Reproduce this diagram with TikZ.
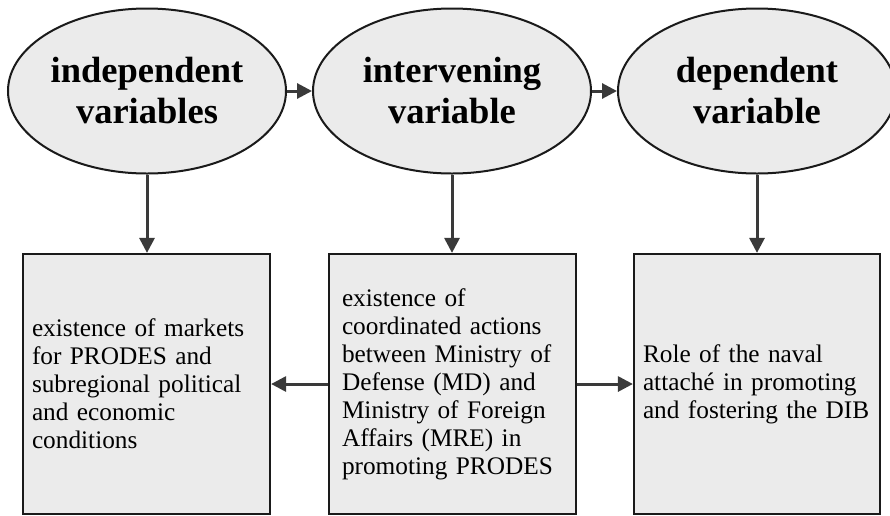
\documentclass[tikz,border=0pt]{standalone}
\usepackage{fontspec}
\setmainfont{Liberation Serif}
\usetikzlibrary{shapes.geometric,arrows.meta}
\definecolor{fillgray}{HTML}{EBEBEB}
\definecolor{edgegray}{HTML}{1A1A1A}
\definecolor{arrowgray}{HTML}{3A3A3A}
\tikzset{
  varell/.style={ellipse, draw=edgegray, line width=2pt, fill=fillgray,
    minimum width=278pt, minimum height=165pt, inner sep=0pt, align=center,
    font=\fontsize{36.5}{41}\selectfont\bfseries, text=black},
  infobox/.style={rectangle, draw=edgegray, line width=2.2pt, fill=fillgray,
    minimum height=260pt, align=left, text=black,
    font=\fontsize{25.3}{28}\selectfont},
  conn/.style={draw=arrowgray, line width=3pt,
    -{Triangle[length=15pt,width=15pt]}}
}
\begin{document}
\begin{tikzpicture}[x=1pt,y=-1pt]
\useasboundingbox (0,0) rectangle (890,515);
\node[varell] (e1) at (147,91) {independent\\variables};
\node[varell] (e2) at (452,91) {intervening\\variable};
\node[varell] (e3) at (757,91) {dependent\\variable};

\node[infobox, text width=229pt, inner xsep=9pt] (b1) at (146.5,384)
  {existence of markets\\for PRODES and\\subregional political\\and economic\\conditions};
\node[infobox, text width=221pt, inner xsep=13pt] (b2) at (452.5,384)
  {existence of\\coordinated actions\\between Ministry of\\Defense (MD) and\\Ministry of Foreign\\Affairs (MRE) in\\promoting PRODES};
\node[infobox, text width=228pt, inner xsep=9pt] (b3) at (757,384)
  {Role of the naval\\attaché in promoting\\and fostering the DIB};

\draw[conn] (e1.east) -- (e2.west);
\draw[conn] (e2.east) -- (e3.west);
\draw[conn] (e1.south) -- (e1.south |- b1.north);
\draw[conn] (e2.south) -- (e2.south |- b2.north);
\draw[conn] (e3.south) -- (e3.south |- b3.north);
\draw[conn] (b2.west) -- (b1.east);
\draw[conn] (b2.east) -- (b3.west);
\end{tikzpicture}
\end{document}
